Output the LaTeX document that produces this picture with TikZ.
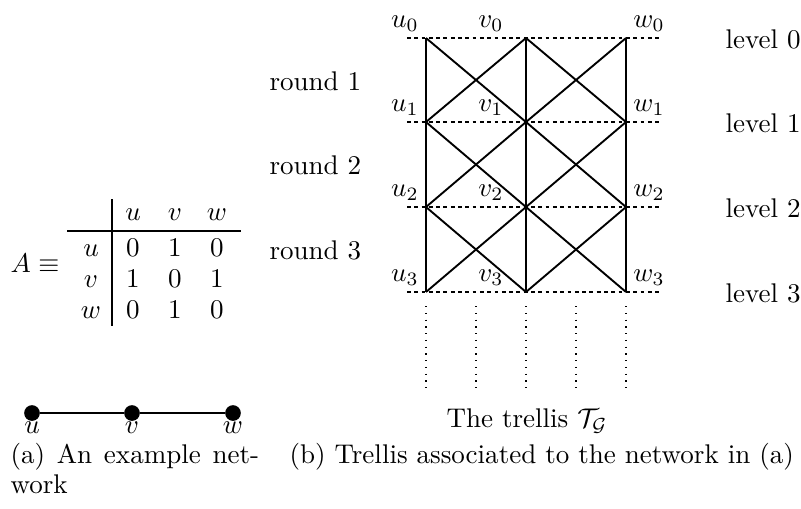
\documentclass[tikz,border=0pt]{standalone}
\usetikzlibrary{calc}
\begin{document}
\begin{tikzpicture}[x=0.37pt,y=-0.37pt,
  trel/.style={line width=0.7pt},
  lev/.style={line width=0.7pt,dash pattern=on 1.4pt off 1.3pt},
  fut/.style={line width=0.5pt,dotted},
  lbl/.style={inner sep=0pt},
  mtx/.style={inner sep=0pt,anchor=base},
  netdot/.style={circle,fill=black,inner sep=0pt,minimum size=5.8pt},
]
\useasboundingbox (0,0) rectangle (801,508);
% trellis vertices
\foreach \n/\x in {u/426,v/526,w/626}{
  \foreach \i/\y in {0/38,1/122,2/207,3/292}{
    \coordinate (\n\i) at (\x,\y);
  }
}
% level lines
\foreach \i in {0,...,3}{
  \coordinate (ls\i) at ($(u\i)+(-19,0)$);
  \coordinate (le\i) at ($(w\i)+(35,0)$);
  \draw[lev] (ls\i) -- (le\i);
}
% verticals
\draw[trel] (u0) -- (u3);
\draw[trel] (v0) -- (v3);
\draw[trel] (w0) -- (w3);
% diagonals
\foreach \i/\j in {0/1,1/2,2/3}{
  \draw[trel] (u\i) -- (v\j);
  \draw[trel] (v\i) -- (u\j);
  \draw[trel] (v\i) -- (w\j);
  \draw[trel] (w\i) -- (v\j);
}
% dotted continuation
\foreach \k/\x in {1/426,2/476,3/526,4/576,5/626}{
  \coordinate (dt\k) at (\x,306);
  \coordinate (db\k) at (\x,388);
  \draw[fut] (dt\k) -- (db\k);
}
% vertex labels
\foreach \i in {0,...,3}{
  \node[lbl] (lu\i) at ($(u\i)+(-21,-14)$) {$u_\i$};
  \node[lbl] (lv\i) at ($(v\i)+(-35,-14)$) {$v_\i$};
  \node[lbl] (lw\i) at ($(w\i)+(23,-14)$) {$w_\i$};
}
% round / level labels
\node[lbl,anchor=west] (r1) at (269,81) {round 1};
\node[lbl,anchor=west] (r2) at (269,165.5) {round 2};
\node[lbl,anchor=west] (r3) at (269,250.5) {round 3};
\foreach \i/\y in {0/39,1/123,2/208,3/293}{
  \node[lbl,anchor=west] (lev\i) at (725,\y) {level \i};
}
\node[lbl] (title) at (527,421) {The trellis $\mathcal{T}_{\mathcal{G}}$};

% adjacency matrix
\node[mtx] (A) at (35,272) {$A\equiv$};
\draw[line width=0.4pt] (67,231) -- (241,231);
\draw[line width=0.4pt] (112,199) -- (112,326);
\node[mtx] (hu) at (133,220) {$u$};
\node[mtx] (hv) at (175,220) {$v$};
\node[mtx] (hw) at (217,220) {$w$};
\node[mtx] (ru) at (91,256.5) {$u$};
\node[mtx] (rv) at (91,287.5) {$v$};
\node[mtx] (rw) at (91,318.5) {$w$};
\node[mtx] (m11) at (133,256.5) {$0$};
\node[mtx] (m12) at (175,256.5) {$1$};
\node[mtx] (m13) at (217,256.5) {$0$};
\node[mtx] (m21) at (133,287.5) {$1$};
\node[mtx] (m22) at (175,287.5) {$0$};
\node[mtx] (m23) at (217,287.5) {$1$};
\node[mtx] (m31) at (133,318.5) {$0$};
\node[mtx] (m32) at (175,318.5) {$1$};
\node[mtx] (m33) at (217,318.5) {$0$};

% example network
\node[netdot] (nu) at (32,413) {};
\node[netdot] (nv) at (132,413) {};
\node[netdot] (nw) at (233,413) {};
\draw[line width=0.7pt] (nu) -- (nv) -- (nw);
\node[lbl] (tu) at (32,428) {$u$};
\node[lbl] (tv) at (132,428) {$v$};
\node[lbl] (tw) at (233,428) {$w$};

% captions
\node[lbl,anchor=base west] (capa1) at (10,463) {\makebox[92pt][s]{(a) An example net-}};
\node[lbl,anchor=base west] (capa2) at (10,493) {work};
\node[lbl,anchor=base west] (capb) at (289,463) {(b) Trellis associated to the network in (a)};
\end{tikzpicture}
\end{document}
